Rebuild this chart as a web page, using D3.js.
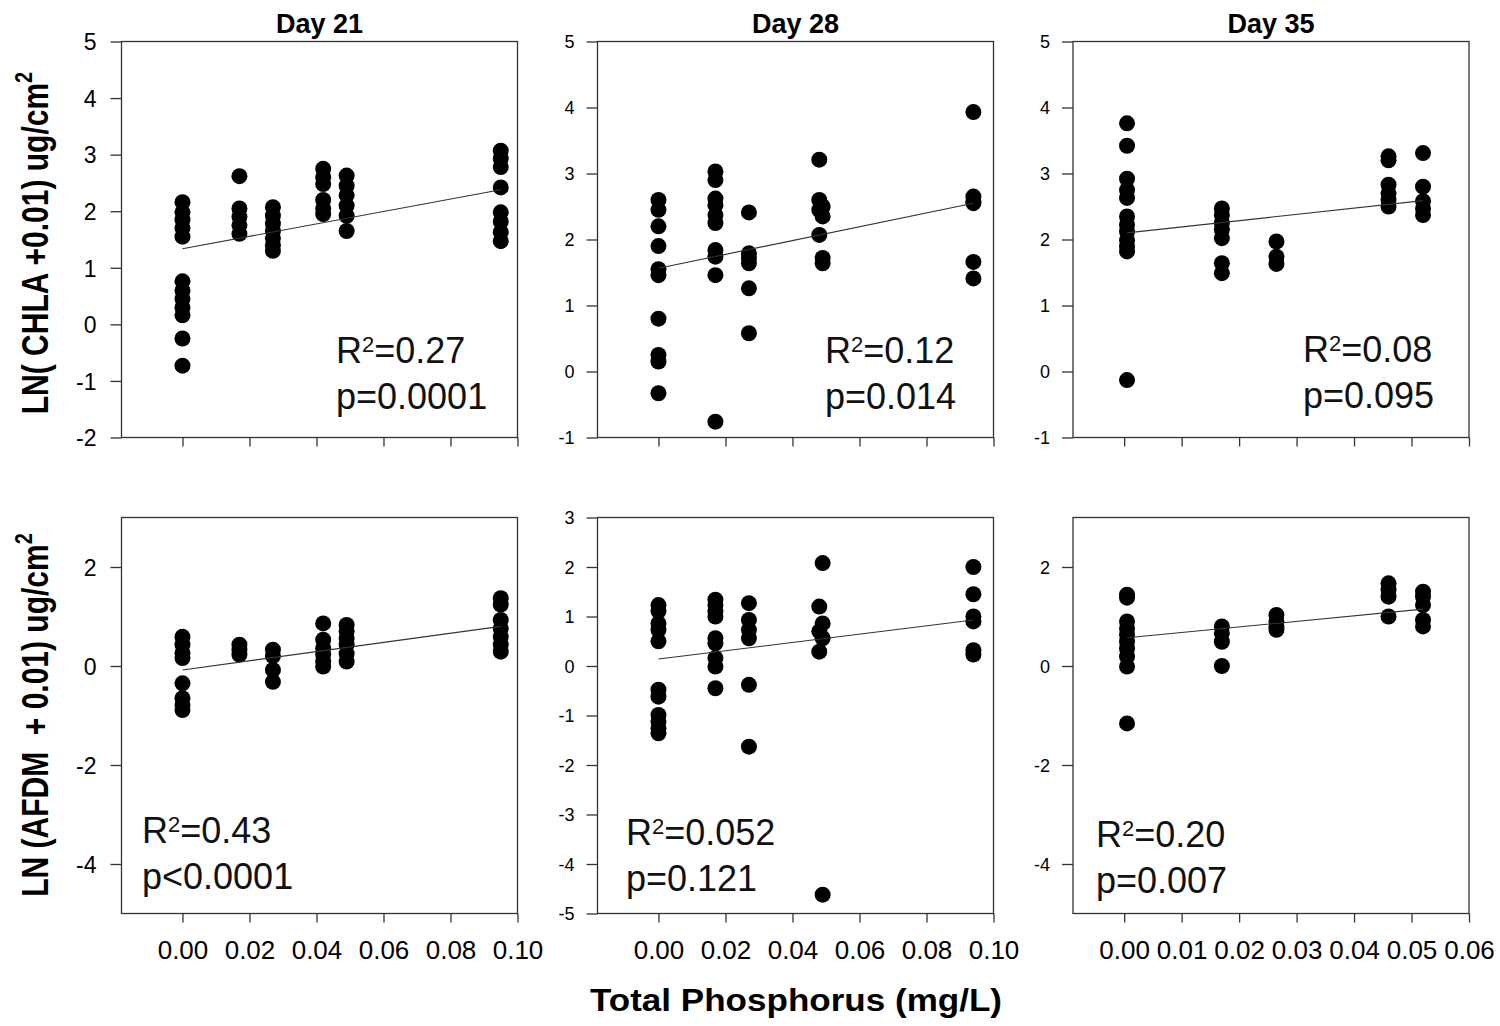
<!DOCTYPE html>
<html><head><meta charset="utf-8">
<script src="https://cdn.jsdelivr.net/npm/d3@7"></script>
<style>
body{margin:0;background:#fff}
svg{display:block}
text{font-family:"Liberation Sans",Arial,Helvetica,sans-serif}
</style>
</head><body>
<svg id="c" width="1500" height="1026"></svg>
<script>
// ---------- data (x = Total Phosphorus mg/L, y = LN value) ----------
const dayTitles = ["Day 21", "Day 28", "Day 35"];

const chlaDay21 = [
  [0,2.16],[0,1.98],[0,1.85],[0,1.7],[0,1.55],[0,0.76],[0,0.6],[0,0.45],[0,0.3],[0,0.16],[0,-0.25],[0,-0.73],
  [0.017,2.62],[0.017,2.05],[0.017,1.9],[0.017,1.75],[0.017,1.6],
  [0.027,2.07],[0.027,1.92],[0.027,1.78],[0.027,1.65],[0.027,1.52],[0.027,1.4],[0.027,1.3],
  [0.042,2.75],[0.042,2.6],[0.042,2.48],[0.042,2.2],[0.042,2.05],[0.042,1.95],
  [0.049,2.63],[0.049,2.45],[0.049,2.28],[0.049,2.1],[0.049,1.92],[0.049,1.65],
  [0.095,3.07],[0.095,2.93],[0.095,2.78],[0.095,2.42],[0.095,1.98],[0.095,1.82],[0.095,1.63],[0.095,1.47]
];
const chlaDay28 = [
  [0,2.6],[0,2.45],[0,2.2],[0,1.9],[0,1.55],[0,1.46],[0,0.8],[0,0.25],[0,0.15],[0,-0.33],
  [0.017,3.03],[0.017,2.9],[0.017,2.62],[0.017,2.52],[0.017,2.37],[0.017,2.25],[0.017,1.84],[0.017,1.74],[0.017,1.46],[0.017,-0.76],
  [0.027,2.41],[0.027,1.79],[0.027,1.72],[0.027,1.64],[0.027,1.26],[0.027,0.58],
  [0.048,3.21],[0.048,2.6],[0.048,2.45],[0.048,2.07],
  [0.049,2.5],[0.049,2.35],[0.049,1.72],[0.049,1.64],
  [0.094,3.93],[0.094,2.65],[0.094,2.58],[0.094,2.55],[0.094,1.66],[0.094,1.41]
];
const chlaDay35 = [
  [0.0005,3.76],[0.0005,3.42],[0.0005,2.92],[0.0005,2.75],[0.0005,2.63],[0.0005,2.35],[0.0005,2.22],[0.0005,2.12],[0.0005,1.99],[0.0005,1.89],[0.0005,1.82],[0.0005,-0.13],
  [0.017,2.47],[0.017,2.37],[0.017,2.25],[0.017,2.15],[0.017,2.02],[0.017,1.64],[0.017,1.49],
  [0.0265,1.97],[0.0265,1.74],[0.0265,1.63],
  [0.046,3.26],[0.046,3.2],[0.046,2.83],[0.046,2.7],[0.046,2.6],[0.046,2.5],
  [0.052,3.31],[0.052,2.8],[0.052,2.58],[0.052,2.47],[0.052,2.37]
];
const afdmDay21 = [
  [0,0.59],[0,0.43],[0,0.26],[0,0.16],[0,-0.35],[0,-0.65],[0,-0.79],[0,-0.89],
  [0.017,0.43],[0.017,0.33],[0.017,0.23],
  [0.027,0.33],[0.027,0.2],[0.027,-0.08],[0.027,-0.32],
  [0.042,0.86],[0.042,0.53],[0.042,0.36],[0.042,0.23],[0.042,0.09],[0.042,-0.01],
  [0.049,0.83],[0.049,0.7],[0.049,0.56],[0.049,0.43],[0.049,0.25],[0.049,0.09],
  [0.095,1.37],[0.095,1.24],[0.095,0.93],[0.095,0.76],[0.095,0.59],[0.095,0.43],[0.095,0.29]
];
const afdmDay28 = [
  [0,1.23],[0,1.11],[0,0.86],[0,0.73],[0,0.5],[0,-0.48],[0,-0.62],[0,-0.99],[0,-1.12],[0,-1.26],[0,-1.36],
  [0.017,1.34],[0.017,1.23],[0.017,1.1],[0.017,1.0],[0.017,0.56],[0.017,0.46],[0.017,0.16],[0.017,-0.01],[0.017,-0.45],
  [0.027,1.27],[0.027,0.93],[0.027,0.73],[0.027,0.56],[0.027,-0.38],[0.027,-1.63],
  [0.048,1.2],[0.048,0.7],[0.048,0.29],
  [0.049,2.08],[0.049,0.86],[0.049,0.56],[0.049,-4.62],
  [0.094,2.0],[0.094,1.45],[0.094,1.0],[0.094,0.9],[0.094,0.32],[0.094,0.23]
];
const afdmDay35 = [
  [0.0005,1.44],[0.0005,1.38],[0.0005,0.9],[0.0005,0.76],[0.0005,0.63],[0.0005,0.49],[0.0005,0.35],[0.0005,0.19],[0.0005,-0.01],[0.0005,-1.16],
  [0.017,0.8],[0.017,0.66],[0.017,0.49],[0.017,0.0],
  [0.0265,1.03],[0.0265,0.9],[0.0265,0.8],[0.0265,0.73],
  [0.046,1.67],[0.046,1.54],[0.046,1.4],[0.046,1.0],
  [0.052,1.5],[0.052,1.4],[0.052,1.23],[0.052,0.93],[0.052,0.8]
];

// regression lines: [intercept, slope]
const fitChla21 = [1.336, 10.98];
const fitChla28 = [1.565, 10.48];
const fitChla35 = [2.095, 9.5];
const fitAfdm21 = [-0.08, 9.26];
const fitAfdm28 = [0.14, 8.4];
const fitAfdm35 = [0.564, 11.26];

const r2Labels = ["0.27", "0.12", "0.08", "0.43", "0.052", "0.20"];
const pLabels = ["p=0.0001", "p=0.014", "p=0.095", "p<0.0001", "p=0.121", "p=0.007"];

const xTicksWide = [0, 0.02, 0.04, 0.06, 0.08, 0.10];
const xTicksNarrow = [0, 0.01, 0.02, 0.03, 0.04, 0.05, 0.06];
const yTicksChla21 = [-2, -1, 0, 1, 2, 3, 4, 5];
const yTicksChla = [-1, 0, 1, 2, 3, 4, 5];
const yTicksAfdmEven = [-4, -2, 0, 2];
const yTicksAfdmAll = [-5, -4, -3, -2, -1, 0, 1, 2, 3];

const yLabelTop = "LN( CHLA +0.01) ug/cm";
const yLabelBottom = "LN (AFDM  + 0.01) ug/cm";
const xLabel = "Total Phosphorus (mg/L)";

// ---------- layout ----------
const W = 396, H = 396;
const colLeft = [121.5, 597.5, 1073];
const rowTop = [41.5, 517.5];
const frameColor = "#333";

const panels = [
  {data: chlaDay21, fit: fitChla21, col: 0, row: 0, xd: [-0.0182, 0.1], xt: xTicksWide, yd: [-2, 5], yt: yTicksChla21, fs: 23, pad: 14, ann: [214.5, 321.5]},
  {data: chlaDay28, fit: fitChla28, col: 1, row: 0, xd: [-0.0182, 0.1], xt: xTicksWide, yd: [-1, 5], yt: yTicksChla, fs: 18, pad: 12, ann: [227.5, 321.5]},
  {data: chlaDay35, fit: fitChla35, col: 2, row: 0, xd: [-0.0089, 0.06], xt: xTicksNarrow, yd: [-1, 5], yt: yTicksChla, fs: 18, pad: 12, ann: [230, 320.5]},
  {data: afdmDay21, fit: fitAfdm21, col: 0, row: 1, xd: [-0.0182, 0.1], xt: xTicksWide, yd: [-5, 3], yt: yTicksAfdmEven, fs: 23, pad: 14, ann: [20.5, 325.5]},
  {data: afdmDay28, fit: fitAfdm28, col: 1, row: 1, xd: [-0.0182, 0.1], xt: xTicksWide, yd: [-5, 3], yt: yTicksAfdmAll, fs: 18, pad: 12, ann: [28.5, 327.5]},
  {data: afdmDay35, fit: fitAfdm35, col: 2, row: 1, xd: [-0.0089, 0.06], xt: xTicksNarrow, yd: [-5, 3], yt: yTicksAfdmEven, fs: 18, pad: 12, ann: [23, 329.5]}
];

const svg = d3.select("#c");
svg.append("rect").attr("width", 1500).attr("height", 1026).attr("fill", "#fff");

const FONT = '"Liberation Sans", Arial, Helvetica, sans-serif';

panels.forEach((p, i) => {
  const g = svg.append("g").attr("transform", `translate(${colLeft[p.col]},${rowTop[p.row]})`);
  const x = d3.scaleLinear().domain(p.xd).range([0, W]);
  const y = d3.scaleLinear().domain(p.yd).range([H, 0]);

  // y axis
  const ya = g.append("g").call(
    d3.axisLeft(y).tickValues(p.yt).tickSize(11).tickPadding(p.pad).tickFormat(d => String(d))
  );
  ya.attr("font-family", FONT).attr("font-size", p.fs);
  ya.select(".domain").remove();
  ya.selectAll("line").attr("stroke", frameColor).attr("stroke-width", 1.3);
  ya.selectAll("text").attr("fill", "#000").attr("dy", "0.36em");

  // x axis
  const xa = g.append("g").attr("transform", `translate(0,${H})`).call(
    d3.axisBottom(x).tickValues(p.xt).tickSize(9).tickPadding(18)
      .tickFormat(p.row === 1 ? d3.format(".2f") : () => "")
  );
  xa.attr("font-family", FONT).attr("font-size", 26);
  xa.select(".domain").remove();
  xa.selectAll("line").attr("stroke", frameColor).attr("stroke-width", 1.3);
  xa.selectAll("text").attr("fill", "#000");

  // frame
  g.append("rect").attr("width", W).attr("height", H)
    .attr("fill", "none").attr("stroke", frameColor).attr("stroke-width", 1.3);

  // points
  g.append("g").selectAll("circle").data(p.data).join("circle")
    .attr("cx", d => x(d[0])).attr("cy", d => y(d[1])).attr("r", 8).attr("fill", "#000");

  // regression line
  const xs = d3.extent(p.data, d => d[0]);
  g.append("line")
    .attr("x1", x(xs[0])).attr("y1", y(p.fit[0] + p.fit[1] * xs[0]))
    .attr("x2", x(xs[1])).attr("y2", y(p.fit[0] + p.fit[1] * xs[1]))
    .attr("stroke", "#333").attr("stroke-width", 1.1);

  // annotation
  const t1 = g.append("text").attr("x", p.ann[0]).attr("y", p.ann[1])
    .attr("font-size", 36).attr("fill", "#111");
  t1.append("tspan").text("R");
  t1.append("tspan").attr("font-size", 22).attr("dy", -11).text("2");
  t1.append("tspan").attr("dy", 11).text("=" + r2Labels[i]);
  g.append("text").attr("x", p.ann[0]).attr("y", p.ann[1] + 46)
    .attr("font-size", 36).attr("fill", "#111").text(pLabels[i]);

  // title
  if (p.row === 0) {
    g.append("text").attr("x", W / 2).attr("y", -8.5).attr("text-anchor", "middle")
      .attr("font-size", 27).attr("font-weight", "bold").attr("fill", "#000")
      .text(dayTitles[p.col]);
  }
});

// y-axis labels
function yLabel(txt, cy) {
  const t = svg.append("text")
    .attr("transform", `translate(48,${cy}) rotate(-90) scale(1,1.2)`)
    .attr("text-anchor", "middle").attr("font-size", 30).attr("font-weight", "bold")
    .attr("fill", "#000").style("white-space", "pre");
  t.append("tspan").text(txt);
  t.append("tspan").attr("font-size", 20).attr("dy", -13).text("2");
}
yLabel(yLabelTop, 243);
yLabel(yLabelBottom, 715);

// x-axis label
svg.append("text").attr("x", 796).attr("y", 1011).attr("text-anchor", "middle")
  .attr("font-size", 31).attr("font-weight", "bold").attr("fill", "#000")
  .attr("textLength", 412).attr("lengthAdjust", "spacingAndGlyphs")
  .text(xLabel);
</script>
</body></html>
